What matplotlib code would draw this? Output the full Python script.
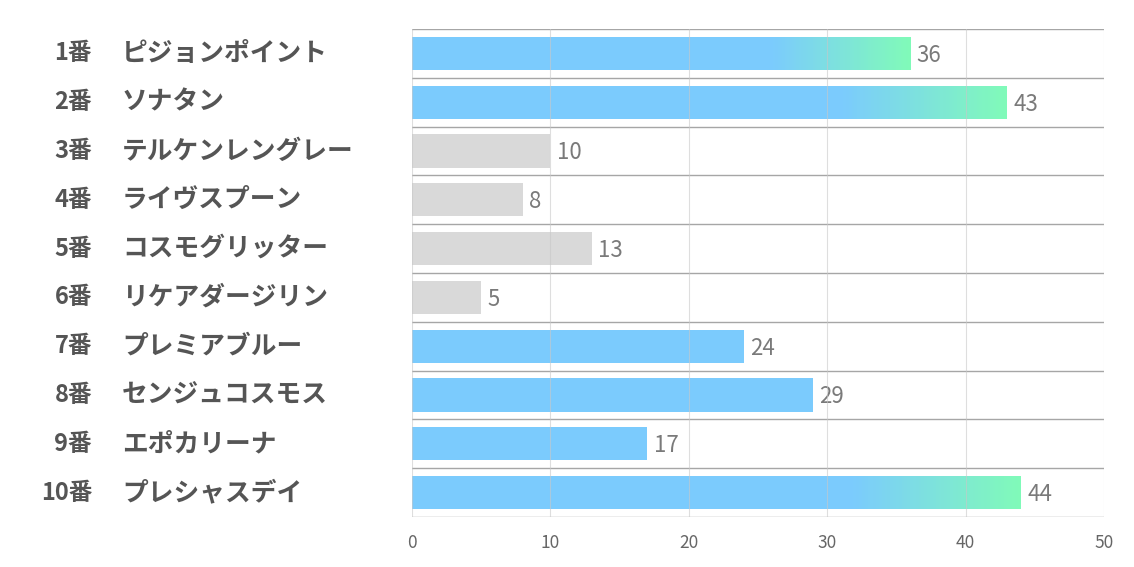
import numpy as np
import matplotlib.pyplot as plt
from matplotlib.colors import LinearSegmentedColormap

plt.rcParams['font.family'] = ['Noto Sans CJK JP', 'DejaVu Sans']

numbers = ['1番', '2番', '3番', '4番', '5番', '6番', '7番', '8番', '9番', '10番']
names = ['ピジョンポイント', 'ソナタン', 'テルケンレングレー', 'ライヴスプーン', 'コスモグリッター',
         'リケアダージリン', 'プレミアブルー', 'センジュコスモス', 'エポカリーナ', 'プレシャスデイ']
values = [36, 43, 10, 8, 13, 5, 24, 29, 17, 44]
kind = ['grad', 'grad', 'gray', 'gray', 'gray', 'gray', 'blue', 'blue', 'blue', 'grad']

blue = '#7BCBFD'
green = '#80FAB9'
gray = '#D9D9D9'
cmap = LinearSegmentedColormap.from_list('bg', [blue, green])

fig = plt.figure(figsize=(11.34, 5.67), dpi=100)
ax = fig.add_axes([412 / 1134, 1 - 517 / 567, 692 / 1134, 488 / 567])

n = len(values)
ys = np.arange(n)
h = 0.68
steps = 60
for y, v, k in zip(ys, values, kind):
    c = gray if k == 'gray' else blue
    if k == 'grad':
        x0 = v * 0.72
        ax.barh(y, x0, height=h, color=c, zorder=2, linewidth=0)
        edges = np.linspace(x0, v, steps + 1)
        for i in range(steps):
            ax.barh(y, edges[i + 1] - edges[i] + 0.02, left=edges[i], height=h,
                    color=cmap(i / (steps - 1)), zorder=2, linewidth=0)
    else:
        ax.barh(y, v, height=h, color=c, zorder=2, linewidth=0)
    ax.text(v + 0.45, y + 0.04, str(v), va='center', ha='left', fontsize=16, color='#7a7a7a')

ax.set_xlim(0, 50)
ax.set_ylim(n - 0.5, -0.5)
ax.set_xticks(range(0, 51, 10))
ax.set_yticks([])
ax.tick_params(axis='x', length=0, pad=12, labelsize=12.5, labelcolor='#666666')
for s in ax.spines.values():
    s.set_visible(False)

for x in range(0, 51, 10):
    ax.axvline(x, color='#C8C8C8', lw=0.8, alpha=0.6, zorder=3)
for b in np.arange(-0.5, n, 1):
    ax.axhline(b, color='#A6A6A6', lw=1, zorder=1)

for y, num, name in zip(ys, numbers, names):
    ax.text(-23.12, y, num, ha='right', va='center', fontsize=17, fontweight='bold',
            color='#555555', clip_on=False)
    ax.text(-20.95, y, name, ha='left', va='center', fontsize=18.5, fontweight='bold',
            color='#555555', clip_on=False)

fig.savefig('out.png', dpi=100)
